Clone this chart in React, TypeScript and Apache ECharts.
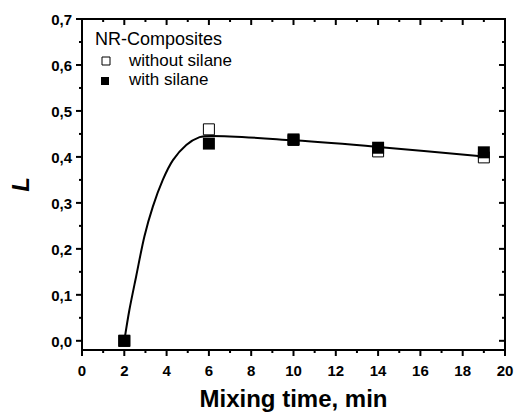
import React, { useEffect, useRef } from "react";
import * as echarts from "echarts";

// Mixing time (min) for measured samples
const timeMin = [2, 6, 10, 14, 19];
// L values, NR composites without silane (open squares)
const withoutSilane = [0, 0.46, 0.437, 0.412, 0.399];
// L values, NR composites with silane (filled squares)
const withSilane = [0, 0.429, 0.438, 0.42, 0.41];
// Fitted curve
const fitX = [2, 2.24, 2.56, 2.95, 3.35, 3.82, 4.3, 4.93, 5.56, 6.11, 10, 14, 19];
const fitY = [0, 0.067, 0.14, 0.227, 0.292, 0.35, 0.393, 0.426, 0.443, 0.4457, 0.436, 0.4217, 0.4007];

// Axis ticks
const xMajorTicks = [0, 2, 4, 6, 8, 10, 12, 14, 16, 18, 20];
const xMinorTicks = [1, 3, 5, 7, 9, 11, 13, 15, 17, 19];
const yMajorTicks = [0, 0.1, 0.2, 0.3, 0.4, 0.5, 0.6, 0.7];
const yMinorTicks = [0.05, 0.15, 0.25, 0.35, 0.45, 0.55, 0.65];

const X_MIN = 0, X_MAX = 20, Y_MIN = -0.02, Y_MAX = 0.7;

const legendTitle = "NR-Composites";
const legendNames = ["without silane", "with silane"];
const xTitle = "Mixing time, min";
const yTitle = "L";

const FONT = '"Liberation Sans", Arial, sans-serif';
const INK = "#000";

const bar = (x: number, y: number, w: number, h: number) => ({
  type: "rect", shape: { x, y, width: w, height: h }, style: { fill: INK },
});

function xTickSeries(values: number[], len: number) {
  return {
    type: "custom", xAxisIndex: 0, yAxisIndex: 0, clip: false, silent: true, z: 10,
    data: values.map((v) => [v, Y_MIN]),
    renderItem: (_p: any, api: any) => {
      const v = api.value(0);
      const b = api.coord([v, Y_MIN]);
      const t = api.coord([v, Y_MAX]);
      return { type: "group", children: [bar(b[0] - 1, b[1], 2, len), bar(t[0] - 1, t[1], 2, len)] };
    },
  };
}

function yTickSeries(values: number[], len: number) {
  return {
    type: "custom", xAxisIndex: 0, yAxisIndex: 0, clip: false, silent: true, z: 10,
    data: values.map((v) => [X_MIN, v]),
    renderItem: (_p: any, api: any) => {
      const v = api.value(1);
      const l = api.coord([X_MIN, v]);
      const r = api.coord([X_MAX, v]);
      return { type: "group", children: [bar(l[0] - len, l[1] - 1, len, 2), bar(r[0] - len, r[1] - 1, len, 2)] };
    },
  };
}

export default function App() {
  const ref = useRef<HTMLDivElement>(null);
  useEffect(() => {
    if (!ref.current) return;
    const chart = echarts.init(ref.current, undefined, { renderer: "svg" });
    const lbl = { show: true, color: INK, fontFamily: FONT, fontWeight: "bold" as const, fontSize: 15 };
    chart.setOption({
      animation: false,
      grid: [
        { left: 82, right: 11, top: 19, bottom: 62, outerBoundsMode: "none" },
        { left: 82, right: 11, top: 19, bottom: 71, outerBoundsMode: "none" },
      ],
      xAxis: [
        {
          type: "value", gridIndex: 0, position: "bottom", min: X_MIN, max: X_MAX, interval: 2,
          axisLine: { show: false, onZero: false }, axisTick: { show: false }, splitLine: { show: false },
          axisLabel: { ...lbl, margin: 13 },
          name: xTitle, nameLocation: "middle", nameGap: 36,
          nameTextStyle: { color: INK, fontFamily: FONT, fontWeight: "bold", fontSize: 24 },
        },
        { type: "value", gridIndex: 1, min: X_MIN, max: X_MAX, show: false },
      ],
      yAxis: [
        {
          type: "value", gridIndex: 0, position: "left", min: Y_MIN, max: Y_MAX,
          axisLine: { show: false, onZero: false }, axisTick: { show: false },
          axisLabel: { show: false }, splitLine: { show: false },
          name: yTitle, nameLocation: "middle", nameGap: 50, nameRotate: 90,
          nameTextStyle: { color: INK, fontFamily: FONT, fontWeight: "bold", fontStyle: "italic", fontSize: 24 },
        },
        {
          type: "value", gridIndex: 1, position: "left", min: 0, max: 0.7, interval: 0.1,
          axisLine: { show: false, onZero: false }, axisTick: { show: false }, splitLine: { show: false },
          axisLabel: { ...lbl, margin: 10, formatter: (v: number) => v.toFixed(1).replace(".", ",") },
        },
      ],
      series: [
        {
          type: "custom", xAxisIndex: 0, yAxisIndex: 0, clip: false, silent: true, z: 10,
          data: [[X_MIN, Y_MIN]],
          renderItem: (_p: any, api: any) => {
            const a = api.coord([X_MIN, Y_MAX]);
            const b = api.coord([X_MAX, Y_MIN]);
            const w = b[0] - a[0], h = b[1] - a[1];
            return {
              type: "group",
              children: [
                bar(a[0] - 1, a[1] - 1, w + 2, 2),
                bar(a[0] - 1, b[1] - 1, w + 2, 2),
                bar(a[0] - 1, a[1] - 1, 2, h + 2),
                bar(b[0] - 1, a[1] - 1, 2, h + 2),
              ],
            };
          },
        },
        xTickSeries(xMajorTicks, 6),
        xTickSeries(xMinorTicks, 3),
        yTickSeries(yMajorTicks, 6),
        yTickSeries(yMinorTicks, 3),
        {
          type: "line", xAxisIndex: 0, yAxisIndex: 0, z: 2,
          data: fitX.map((x, i) => [x, fitY[i]]),
          smooth: 0.3, showSymbol: false, symbol: "none",
          lineStyle: { color: INK, width: 2 },
        },
        {
          type: "scatter", name: legendNames[0], xAxisIndex: 0, yAxisIndex: 0, z: 3,
          data: timeMin.map((x, i) => [x, withoutSilane[i]]),
          symbol: "rect", symbolSize: 11,
          itemStyle: { color: "#fff", borderColor: INK, borderWidth: 1, opacity: 1 },
        },
        {
          type: "scatter", name: legendNames[1], xAxisIndex: 0, yAxisIndex: 0, z: 4,
          data: timeMin.map((x, i) => [x, withSilane[i]]),
          symbol: "rect", symbolSize: 12,
          itemStyle: { color: INK, opacity: 1 },
        },
      ],
      graphic: [
        { type: "text", left: 95, top: 30, style: { text: legendTitle, fill: INK, font: `18px ${FONT}` } },
        { type: "rect", shape: { x: 102, y: 57, width: 8, height: 8 }, style: { fill: "#fff", stroke: INK, lineWidth: 1 } },
        { type: "text", left: 129, top: 52, style: { text: legendNames[0], fill: INK, font: `17px ${FONT}` } },
        { type: "rect", shape: { x: 101, y: 77, width: 8, height: 8 }, style: { fill: INK } },
        { type: "text", left: 129, top: 71, style: { text: legendNames[1], fill: INK, font: `17px ${FONT}` } },
      ],
    });
    return () => chart.dispose();
  }, []);
  return <div ref={ref} style={{ width: 516, height: 412, position: "absolute", left: 0, top: 0 }} />;
}
